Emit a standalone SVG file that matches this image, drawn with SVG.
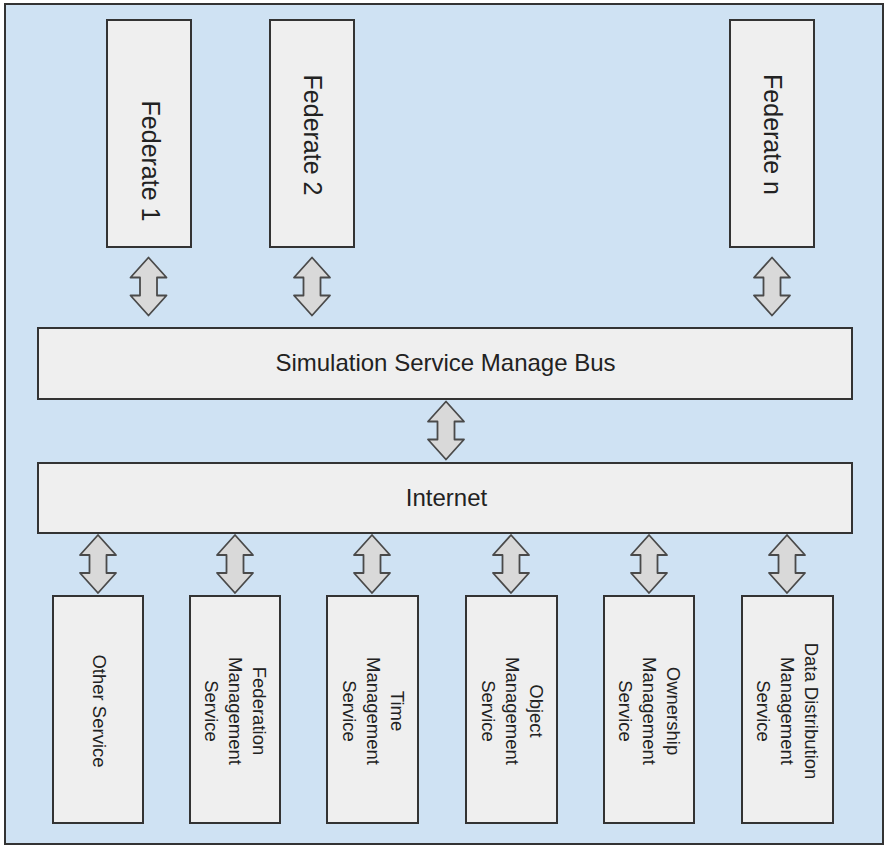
<svg xmlns="http://www.w3.org/2000/svg" xmlns:xlink="http://www.w3.org/1999/xlink" width="893" height="851" viewBox="0 0 893 851">
  <style>
    .frame { fill: #cfe2f3; stroke: #333333; stroke-width: 2; }
    .box { fill: #efefef; stroke: #333333; stroke-width: 2; }
    .lbl { font-family: "Liberation Sans", Arial, sans-serif; fill: #222222; text-anchor: middle; dominant-baseline: central; }
    .big { font-size: 24px; }
    .fed { font-size: 25px; }
    .svc { font-size: 18.5px; }
    .arrow { fill: #d9d9d9; stroke: #4a4a4a; stroke-width: 1.8; stroke-linejoin: round; }
  </style>
  <defs>
    <path id="dblArrow" class="arrow" d="M0,-29 L18,-9 L8.5,-9 L8.5,9 L18,9 L0,29 L-18,9 L-8.5,9 L-8.5,-9 L-18,-9 Z"/>
  </defs>
  <rect class="frame" x="5" y="4" width="878" height="840"/>

  <g id="federate-1">
    <rect class="box" x="107" y="20" width="84" height="227"/>
    <text class="lbl fed" transform="translate(151,161) rotate(90)">Federate 1</text>
  </g>
  <g id="federate-2">
    <rect class="box" x="270" y="20" width="84" height="227"/>
    <text class="lbl fed" transform="translate(313,135) rotate(90)">Federate 2</text>
  </g>
  <g id="federate-n">
    <rect class="box" x="730" y="20" width="84" height="227"/>
    <text class="lbl fed" transform="translate(773,134.5) rotate(90)">Federate n</text>
  </g>

  <g id="bus">
    <rect class="box" x="38" y="328" width="814" height="71"/>
    <text class="lbl big" x="445.5" y="362">Simulation Service Manage Bus</text>
  </g>
  <g id="internet">
    <rect class="box" x="38" y="463" width="814" height="70"/>
    <text class="lbl big" x="446.5" y="497">Internet</text>
  </g>

  <g id="other-service">
    <rect class="box" x="53" y="596" width="90" height="227"/>
    <text class="lbl svc" transform="translate(99,711) rotate(90)">Other Service</text>
  </g>
  <g id="federation-management-service">
    <rect class="box" x="190" y="596" width="90" height="227"/>
    <text class="lbl svc" transform="translate(259,711) rotate(90)">Federation</text>
    <text class="lbl svc" transform="translate(235,711) rotate(90)">Management</text>
    <text class="lbl svc" transform="translate(211,711) rotate(90)">Service</text>
  </g>
  <g id="time-management-service">
    <rect class="box" x="327" y="596" width="91" height="227"/>
    <text class="lbl svc" transform="translate(397,711) rotate(90)">Time</text>
    <text class="lbl svc" transform="translate(373,711) rotate(90)">Management</text>
    <text class="lbl svc" transform="translate(349,711) rotate(90)">Service</text>
  </g>
  <g id="object-management-service">
    <rect class="box" x="466" y="596" width="91" height="227"/>
    <text class="lbl svc" transform="translate(536,711) rotate(90)">Object</text>
    <text class="lbl svc" transform="translate(512,711) rotate(90)">Management</text>
    <text class="lbl svc" transform="translate(488,711) rotate(90)">Service</text>
  </g>
  <g id="ownership-management-service">
    <rect class="box" x="604" y="596" width="90" height="227"/>
    <text class="lbl svc" transform="translate(673,711) rotate(90)">Ownership</text>
    <text class="lbl svc" transform="translate(649,711) rotate(90)">Management</text>
    <text class="lbl svc" transform="translate(625,711) rotate(90)">Service</text>
  </g>
  <g id="data-distribution-management-service">
    <rect class="box" x="742" y="596" width="91" height="227"/>
    <text class="lbl svc" transform="translate(811,711) rotate(90)">Data Distribution</text>
    <text class="lbl svc" transform="translate(787,711) rotate(90)">Management</text>
    <text class="lbl svc" transform="translate(763,711) rotate(90)">Service</text>
  </g>

  <g id="connectors">
    <use xlink:href="#dblArrow" href="#dblArrow" transform="translate(148.5,286.5)"/>
    <use xlink:href="#dblArrow" href="#dblArrow" transform="translate(312,286.5)"/>
    <use xlink:href="#dblArrow" href="#dblArrow" transform="translate(772,286.5)"/>
    <use xlink:href="#dblArrow" href="#dblArrow" transform="translate(446,430.5)"/>
    <use xlink:href="#dblArrow" href="#dblArrow" transform="translate(98,564)"/>
    <use xlink:href="#dblArrow" href="#dblArrow" transform="translate(235,564)"/>
    <use xlink:href="#dblArrow" href="#dblArrow" transform="translate(372,564)"/>
    <use xlink:href="#dblArrow" href="#dblArrow" transform="translate(511,564)"/>
    <use xlink:href="#dblArrow" href="#dblArrow" transform="translate(649,564)"/>
    <use xlink:href="#dblArrow" href="#dblArrow" transform="translate(787,564)"/>
  </g>
</svg>
